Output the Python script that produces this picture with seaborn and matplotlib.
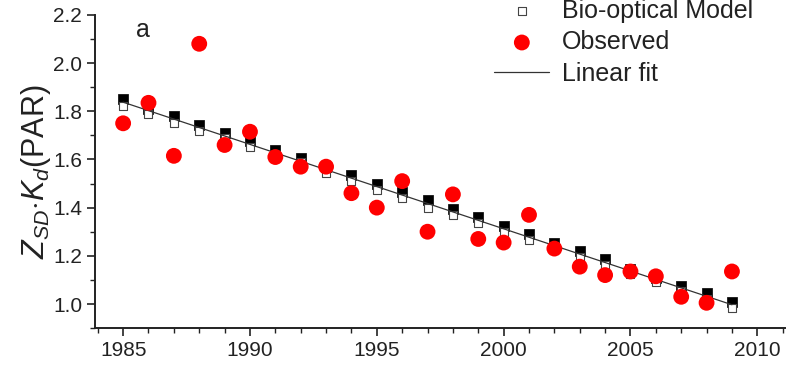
import numpy as np
import pandas as pd
import matplotlib
matplotlib.use("Agg")
import matplotlib.pyplot as plt
import seaborn as sns
from matplotlib.ticker import MultipleLocator

# data
years = list(range(1985, 2010))
observed = [1.75, 1.835, 1.615, 2.08, 1.66, 1.715, 1.61, 1.57, 1.57, 1.46,
            1.40, 1.51, 1.30, 1.455, 1.27, 1.255, 1.37, 1.23, 1.155, 1.12,
            1.135, 1.115, 1.03, 1.005, 1.135]
model_open = [1.82, 1.79, 1.75, 1.72, 1.69, 1.65, 1.62, 1.59, 1.545, 1.51,
              1.475, 1.44, 1.40, 1.37, 1.335, 1.30, 1.265, 1.235, 1.195, 1.16,
              1.125, 1.09, 1.055, 1.02, 0.985]
model_filled = [1.85, 1.81, 1.78, 1.745, 1.71, 1.675, 1.64, 1.605, 1.57, 1.535,
                1.50, 1.465, 1.43, 1.395, 1.36, 1.325, 1.29, 1.255, 1.22, 1.185,
                1.145, 1.11, 1.075, 1.045, 1.01]

df = pd.DataFrame({"year": years, "obs": observed,
                   "model": model_open, "model2": model_filled})

# linear fit through the model points
coef = np.polyfit(df["year"], (df["model"] + df["model2"]) / 2, 1)
df["fit"] = np.polyval(coef, df["year"])

sns.set_theme(style="ticks")
plt.rcParams["font.family"] = ["Liberation Sans", "DejaVu Sans"]
plt.rcParams["mathtext.fontset"] = "custom"
plt.rcParams["mathtext.it"] = "Liberation Sans:italic"
plt.rcParams["mathtext.rm"] = "Liberation Sans"

fig = plt.figure(figsize=(8.07, 3.72), dpi=100)
ax = fig.add_axes([0.118, 0.118, 0.855, 0.842])

sns.scatterplot(data=df, x="year", y="model2", marker="s", s=42, color="black",
                edgecolor="black", linewidth=0.5, ax=ax, zorder=2)
sns.scatterplot(data=df, x="year", y="model", marker="s", s=36, color="white",
                edgecolor="#444444", linewidth=0.8, ax=ax, zorder=3,
                label="Bio-optical Model")
sns.lineplot(data=df, x="year", y="fit", color="#333333", linewidth=0.9, ax=ax,
             zorder=4, label="Linear fit")
sns.scatterplot(data=df, x="year", y="obs", marker="o", s=130, color="#ff0000",
                edgecolor="none", ax=ax, zorder=5, label="Observed")

ax.set_xlim(1983.9, 2011.1)
ax.set_ylim(0.9, 2.2)
ax.xaxis.set_major_locator(MultipleLocator(5))
ax.xaxis.set_minor_locator(MultipleLocator(1))
ax.yaxis.set_major_locator(MultipleLocator(0.2))
ax.yaxis.set_minor_locator(MultipleLocator(0.1))
ax.yaxis.set_major_formatter(matplotlib.ticker.FormatStrFormatter("%.1f"))
ax.tick_params(axis="both", which="major", labelsize=15, length=6, width=1.2,
               color="#222222", labelcolor="#222222")
ax.tick_params(axis="both", which="minor", length=3.5, width=1.0, color="#222222")
for s in ["left", "bottom"]:
    ax.spines[s].set_linewidth(1.4)
    ax.spines[s].set_color("#222222")
sns.despine(ax=ax)

ax.set_xlabel("")
ax.set_ylabel(r"$Z_{SD}$$\cdot$$K_d$(PAR)", fontsize=22, color="#222222",
              labelpad=0)
ax.text(1985.5, 2.11, "a", fontsize=18, color="#222222")

handles, labels = ax.get_legend_handles_labels()
order = [labels.index(l) for l in ["Bio-optical Model", "Observed", "Linear fit"]]
ax.legend([handles[i] for i in order], [labels[i] for i in order],
          loc="upper right", bbox_to_anchor=(0.975, 1.1), frameon=False,
          fontsize=18, handlelength=2.2, labelspacing=0.3, handletextpad=0.5,
          labelcolor="#222222", borderaxespad=0.2)

fig.savefig("out.png", dpi=100)
